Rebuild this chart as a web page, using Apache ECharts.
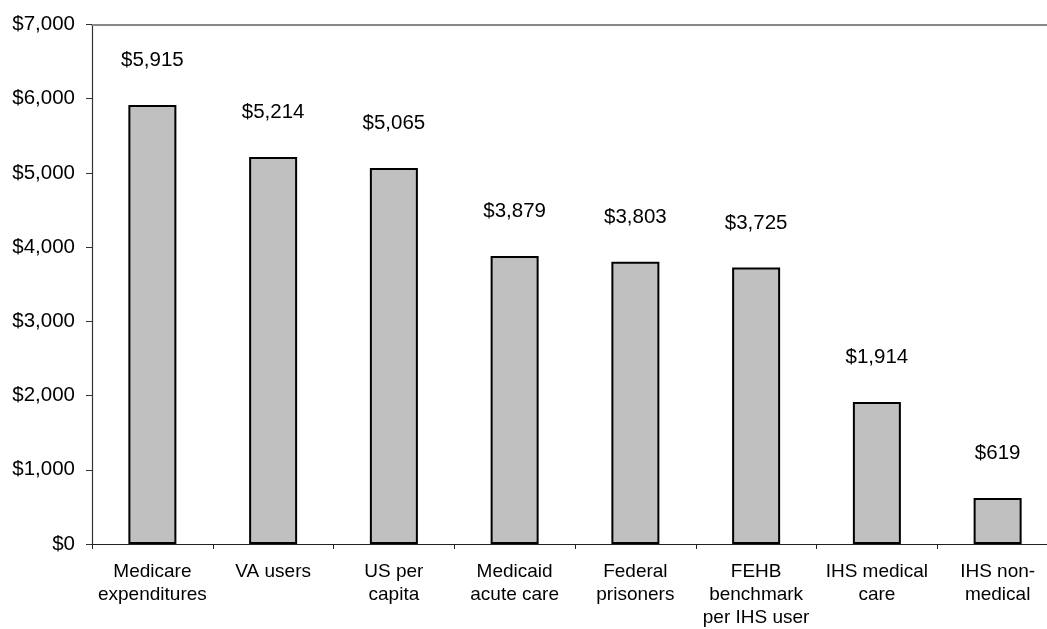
<!DOCTYPE html>
<html>
<head>
<meta charset="utf-8">
<script src="https://cdn.jsdelivr.net/npm/echarts@6/dist/echarts.min.js"></script>
<style>html,body{margin:0;padding:0;background:#fff;}#c{width:1047px;height:629px;}</style>
</head>
<body>
<div id="c"></div>
<script>
var categories = ["Medicare\nexpenditures", "VA users", "US per\ncapita", "Medicaid\nacute care", "Federal\nprisoners", "FEHB\nbenchmark\nper IHS user", "IHS medical\ncare", "IHS non-\nmedical"];
var values = [5915, 5214, 5065, 3879, 3803, 3725, 1914, 619];
var yTicks = [0, 1000, 2000, 3000, 4000, 5000, 6000, 7000];

function money(v) {
  return '$' + String(v).replace(/\B(?=(\d{3})+(?!\d))/g, ',');
}

var chart = echarts.init(document.getElementById('c'));
chart.setOption({
  animation: false,
  backgroundColor: '#fff',
  textStyle: { fontFamily: 'Liberation Sans, Arial, sans-serif', color: '#000' },
  grid: { left: 92, width: 966, top: 24.5, bottom: 85, outerBoundsMode: 'none', containLabel: false },
  xAxis: [{
    type: 'category',
    data: categories,
    axisLine: { lineStyle: { color: '#222', width: 1.2 } },
    axisTick: { show: true, length: 5, lineStyle: { color: '#222' } },
    axisLabel: { color: '#000', fontSize: 19, lineHeight: 23, margin: 16, interval: 0, fontFamily: 'Liberation Sans, Arial, sans-serif' }
  }, {
    type: 'category',
    position: 'top',
    data: categories,
    axisLine: { lineStyle: { color: '#888', width: 2 } },
    axisTick: { show: false },
    axisLabel: { show: false }
  }],
  yAxis: {
    type: 'value',
    min: yTicks[0],
    max: yTicks[yTicks.length - 1],
    interval: 1000,
    axisLine: { show: true, lineStyle: { color: '#333', width: 1.2 } },
    axisTick: { show: true, length: 6, lineStyle: { color: '#333' } },
    splitLine: { show: false },
    axisLabel: { color: '#000', fontSize: 20.5, margin: 17, formatter: money, fontFamily: 'Liberation Sans, Arial, sans-serif' }
  },
  series: [{
    type: 'bar',
    data: values,
    barWidth: 48,
    itemStyle: { color: '#c0c0c0', borderColor: '#000', borderWidth: 2 },
    label: {
      show: true,
      position: 'top',
      distance: 34,
      color: '#000',
      fontSize: 20.5,
      fontFamily: 'Liberation Sans, Arial, sans-serif',
      formatter: function (p) { return money(p.value); }
    }
  }]
});
</script>
</body>
</html>
